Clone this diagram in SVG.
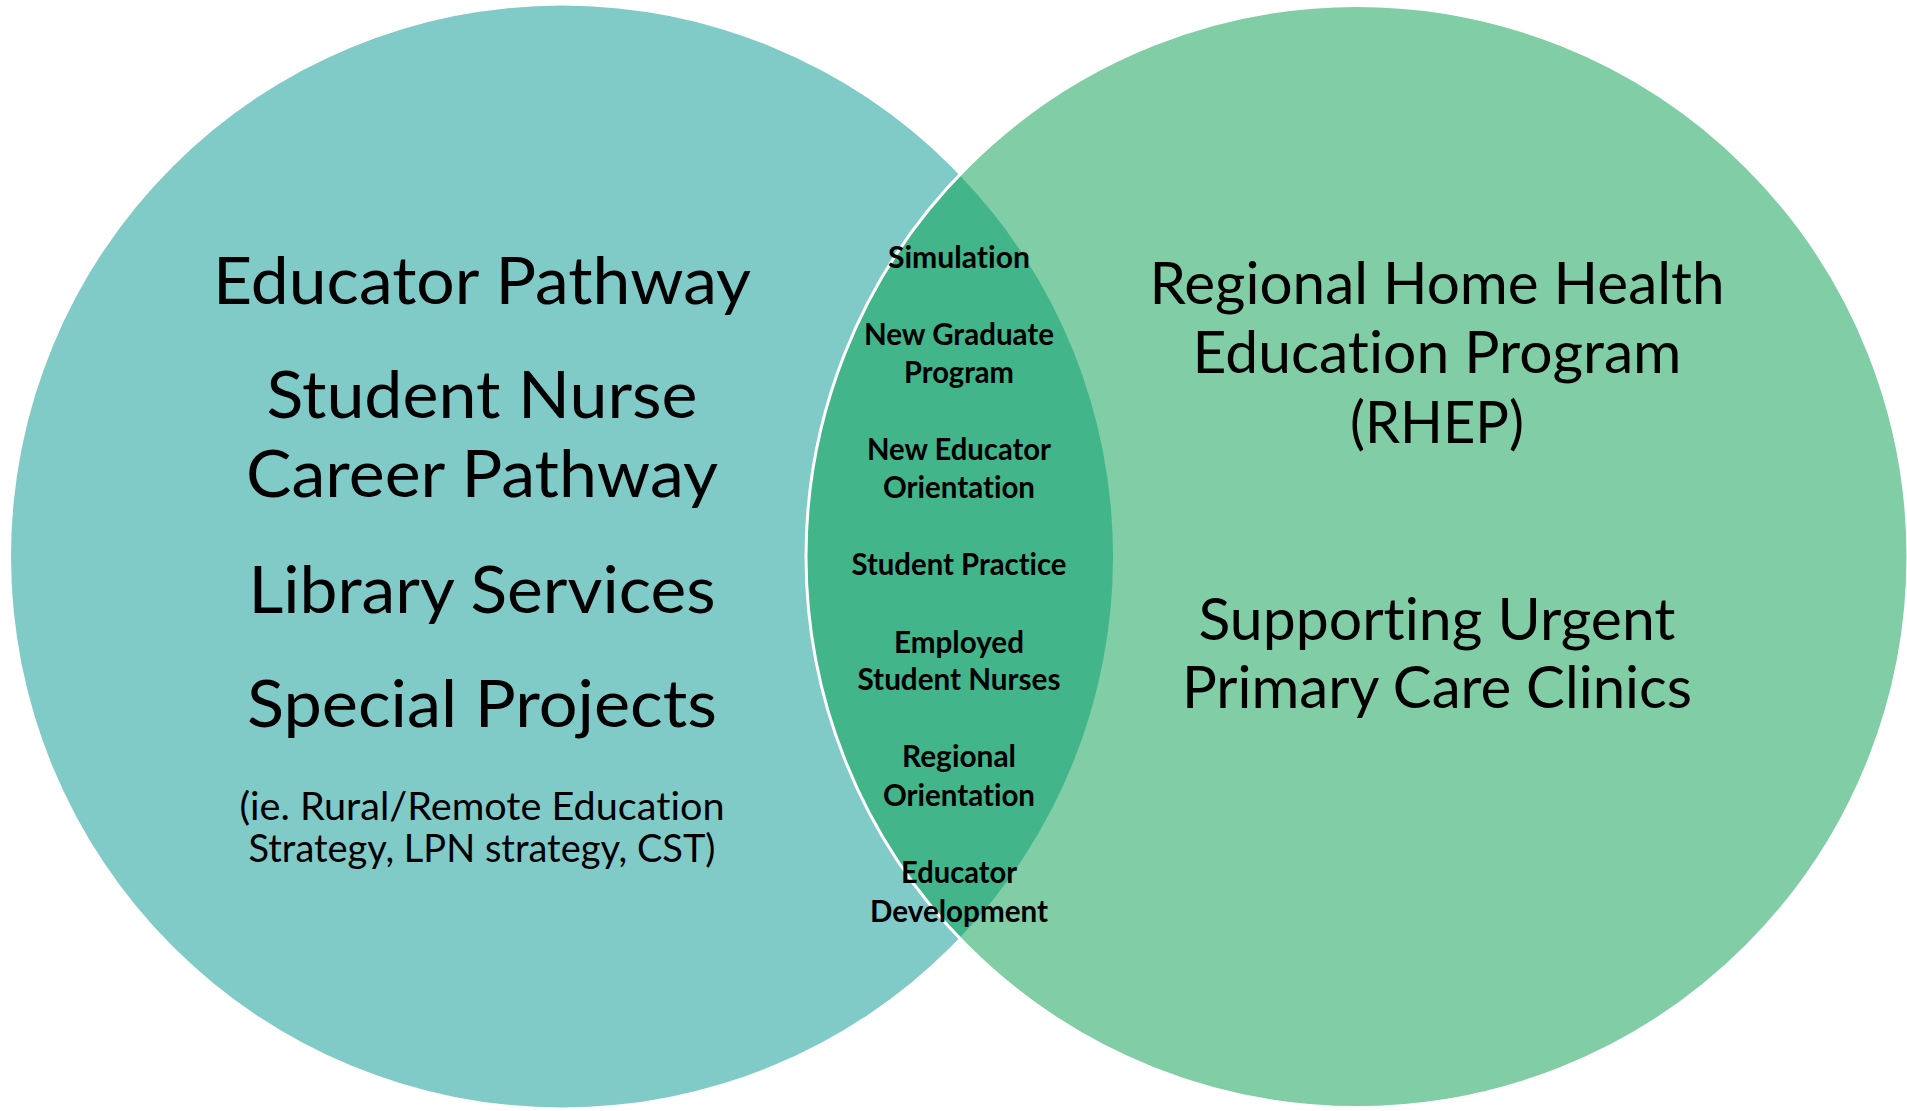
<svg xmlns="http://www.w3.org/2000/svg" width="1907" height="1111" viewBox="0 0 1907 1111">
<style>
text{font-family:Lato,"Open Sans","Liberation Sans",sans-serif;fill:#000;text-anchor:middle;font-variant-ligatures:none;font-feature-settings:"liga" 0}
.big{font-size:66px}
.mid{font-size:58px}
.small{font-size:39px}
.lens{font-size:30px;font-weight:bold}
</style>
<rect width="1907" height="1111" fill="#ffffff"/>
<g id="left-circle">
<circle cx="562" cy="556.5" r="551" fill="#80CAC8"/>
</g>
<g id="right-circle">
<circle cx="1357" cy="556.5" r="551" fill="#80CDA6"/>
</g>
<g id="overlap">
<path d="M959.5 174.9 A551 551 0 0 0 959.5 938.1 A551 551 0 0 0 959.5 174.9 Z" fill="#42B58A"/>
<circle cx="1357" cy="556.5" r="551" fill="none" stroke="#ffffff" stroke-width="3"/>
</g>
<g id="left-text">
<text class="big" x="482" y="304" textLength="538" lengthAdjust="spacingAndGlyphs">Educator Pathway</text>
<text class="big" x="482" y="418" textLength="431" lengthAdjust="spacingAndGlyphs">Student Nurse</text>
<text class="big" x="482" y="497" textLength="472" lengthAdjust="spacingAndGlyphs">Career Pathway</text>
<text class="big" x="482" y="613" textLength="467" lengthAdjust="spacingAndGlyphs">Library Services</text>
<text class="big" x="482" y="727" textLength="470" lengthAdjust="spacingAndGlyphs">Special Projects</text>
<text class="small" x="482" y="820" textLength="485" lengthAdjust="spacingAndGlyphs">(ie. Rural/Remote Education</text>
<text class="small" x="482" y="862" textLength="467" lengthAdjust="spacingAndGlyphs">Strategy, LPN strategy, CST)</text>
</g>
<g id="right-text">
<text class="mid" x="1437" y="304" textLength="575" lengthAdjust="spacingAndGlyphs">Regional Home Health</text>
<text class="mid" x="1437" y="373" textLength="489" lengthAdjust="spacingAndGlyphs">Education Program</text>
<text class="mid" x="1437" y="443" textLength="174" lengthAdjust="spacingAndGlyphs">(RHEP)</text>
<text class="mid" x="1437" y="640" textLength="477" lengthAdjust="spacingAndGlyphs">Supporting Urgent</text>
<text class="mid" x="1437" y="708" textLength="510" lengthAdjust="spacingAndGlyphs">Primary Care Clinics</text>
</g>
<g id="overlap-text">
<text class="lens" x="959" y="268" textLength="142" lengthAdjust="spacingAndGlyphs">Simulation</text>
<text class="lens" x="959" y="345" textLength="190" lengthAdjust="spacingAndGlyphs">New Graduate</text>
<text class="lens" x="959" y="383" textLength="110" lengthAdjust="spacingAndGlyphs">Program</text>
<text class="lens" x="959" y="460" textLength="184" lengthAdjust="spacingAndGlyphs">New Educator</text>
<text class="lens" x="959" y="498" textLength="152" lengthAdjust="spacingAndGlyphs">Orientation</text>
<text class="lens" x="959" y="575" textLength="215" lengthAdjust="spacingAndGlyphs">Student Practice</text>
<text class="lens" x="959" y="653" textLength="130" lengthAdjust="spacingAndGlyphs">Employed</text>
<text class="lens" x="959" y="690" textLength="203" lengthAdjust="spacingAndGlyphs">Student Nurses</text>
<text class="lens" x="959" y="767" textLength="114" lengthAdjust="spacingAndGlyphs">Regional</text>
<text class="lens" x="959" y="806" textLength="152" lengthAdjust="spacingAndGlyphs">Orientation</text>
<text class="lens" x="959" y="883" textLength="116" lengthAdjust="spacingAndGlyphs">Educator</text>
<text class="lens" x="959" y="922" textLength="178" lengthAdjust="spacingAndGlyphs">Development</text>
</g>
</svg>
